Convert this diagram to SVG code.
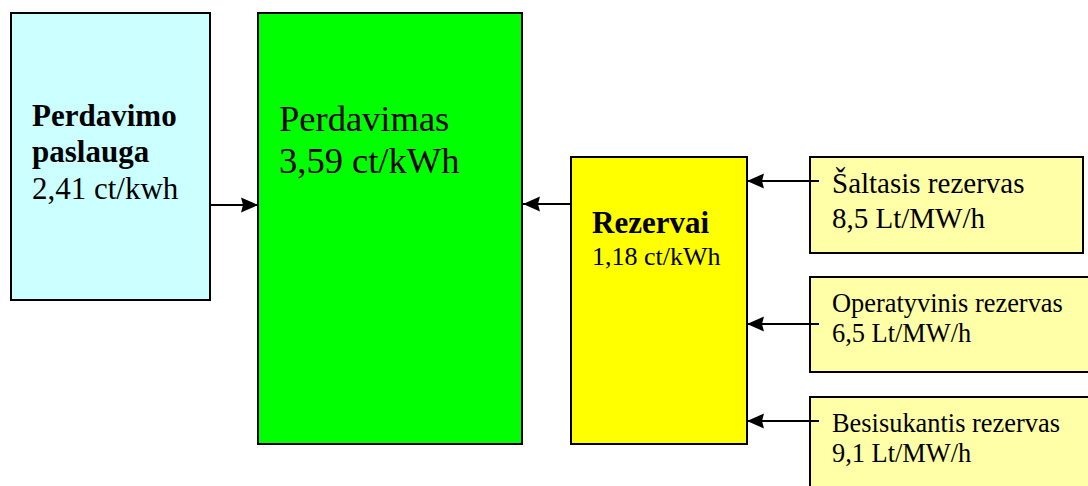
<svg xmlns="http://www.w3.org/2000/svg" width="1088" height="486" viewBox="0 0 1088 486">
<style>
.box{stroke:#000;stroke-width:2}
.t{font-family:"Liberation Serif","Times New Roman",serif;fill:#000}
.b{font-weight:bold}
.conn{stroke:#000;stroke-width:2;fill:none}
</style>
<defs>
<marker id="arr" markerWidth="17" markerHeight="16" refX="17" refY="8" orient="auto" markerUnits="userSpaceOnUse">
<path d="M0,0.5 L17,8 L0,15.5 L2,8 Z" fill="#000"/>
</marker>
</defs>
<rect width="1088" height="486" fill="#fff"/>
<g id="perdavimo-paslauga">
<rect class="box" x="11" y="13" width="199" height="287" fill="#ccffff"/>
<text class="t b" x="32" y="126" font-size="31">Perdavimo</text>
<text class="t b" x="32" y="162" font-size="31">paslauga</text>
<text class="t" x="32" y="199" font-size="31">2,41 ct/kwh</text>
</g>
<g id="perdavimas">
<rect class="box" x="258" y="13" width="264" height="431" fill="#00ff00"/>
<text class="t" x="279" y="131" font-size="36.5">Perdavimas</text>
<text class="t" x="279" y="173" font-size="36.5">3,59 ct/kWh</text>
</g>
<g id="rezervai">
<rect class="box" x="571" y="157" width="176" height="287" fill="#ffff00"/>
<text class="t b" x="592" y="233" font-size="31">Rezervai</text>
<text class="t" x="592" y="265" font-size="26">1,18 ct/kWh</text>
</g>
<g id="saltasis">
<rect class="box" x="810" y="157" width="273" height="96" fill="#ffffa8"/>
<text class="t" x="832" y="193" font-size="29">Šaltasis rezervas</text>
<text class="t" x="832" y="228" font-size="29">8,5 Lt/MW/h</text>
</g>
<g id="operatyvinis">
<rect class="box" x="810" y="277" width="290" height="95" fill="#ffffa8"/>
<text class="t" x="832" y="311.5" font-size="26.4">Operatyvinis rezervas</text>
<text class="t" x="832" y="342" font-size="26.4">6,5 Lt/MW/h</text>
</g>
<g id="besisukantis">
<rect class="box" x="810" y="397" width="290" height="100" fill="#ffffa8"/>
<text class="t" x="832" y="431.5" font-size="26.4">Besisukantis rezervas</text>
<text class="t" x="832" y="462" font-size="26.4">9,1 Lt/MW/h</text>
</g>
<g id="connectors">
<line class="conn" x1="210" y1="205" x2="258" y2="205" marker-end="url(#arr)"/>
<line class="conn" x1="571" y1="204" x2="523" y2="204" marker-end="url(#arr)"/>
<line class="conn" x1="819" y1="181" x2="747" y2="181" marker-end="url(#arr)"/>
<line class="conn" x1="819" y1="324" x2="747" y2="324" marker-end="url(#arr)"/>
<line class="conn" x1="819" y1="421" x2="747" y2="421" marker-end="url(#arr)"/>
</g>
</svg>
